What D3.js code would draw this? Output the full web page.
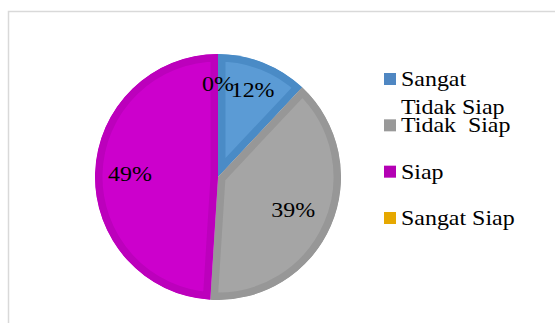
<!DOCTYPE html>
<html><head><meta charset="utf-8">
<script src="https://cdn.jsdelivr.net/npm/d3@7"></script>
<style>html,body{margin:0;padding:0;background:#fff;}svg{display:block;}
text{font-family:"Liberation Serif","Times New Roman",serif;white-space:pre;}</style>
</head><body>
<svg id="c" width="555" height="323"></svg>
<script>
const categories = ["Sangat Tidak Siap", "Tidak  Siap", "Siap", "Sangat Siap"];
const legendLines = [["Sangat", "Tidak Siap"], ["Tidak  Siap"], ["Siap"], ["Sangat Siap"]];
const values = [12, 39, 49, 0];
const labels = ["12%", "39%", "49%", "0%"];
const fills = ["#5B9BD5", "#A5A5A5", "#CC00CC", "#F0B000"];
const edges = ["#4A8BC6", "#979797", "#BC00BC", "#DDA000"];
const legendColors = ["#4F87C2", "#999999", "#B400B4", "#E6A800"];
const labelRadius = [94, 82, 88, 93];

const svg = d3.select("#c");
svg.append("path").attr("d", "M8.5,323 V11.5 H555").attr("fill", "none").attr("stroke", "#d9d9d9").attr("stroke-width", 1.5);

const cx = 218, cy = 177, r = 123;
const pie = d3.pie().sort(null).value(d => d)(values);
const arc = d3.arc().innerRadius(0).outerRadius(r);
const g = svg.append("g").attr("transform", `translate(${cx},${cy})`);
const defs = svg.append("defs");
pie.forEach((p, i) => {
  if (p.endAngle - p.startAngle <= 0) return;
  defs.append("clipPath").attr("id", "cl" + i).append("path").attr("d", arc(p));
  g.append("path").attr("d", arc(p)).attr("fill", fills[i])
    .attr("stroke", edges[i]).attr("stroke-width", 15).attr("clip-path", `url(#cl${i})`);
});
pie.forEach((p, i) => {
  const la = d3.arc().innerRadius(labelRadius[i]).outerRadius(labelRadius[i]);
  const [x, y] = la.centroid(p);
  g.append("text").attr("transform", `translate(${x},${y}) scale(1.14,1)`)
    .attr("text-anchor", "middle").attr("dy", "0.33em")
    .attr("font-size", 21).attr("fill", "#000").text(labels[i]);
});
const ly = d3.scalePoint().domain(categories).range([79, 218]);
categories.forEach((c, i) => {
  const y = ly(c);
  svg.append("rect").attr("x", 384).attr("y", y - 6).attr("width", 12).attr("height", 12).attr("fill", legendColors[i]);
  legendLines[i].forEach((t, j) => {
    svg.append("text").attr("transform", `translate(401,${y + 7 + j * 28}) scale(1.14,1)`)
      .attr("font-size", 21).attr("fill", "#000").text(t);
  });
});
</script>
</body></html>
